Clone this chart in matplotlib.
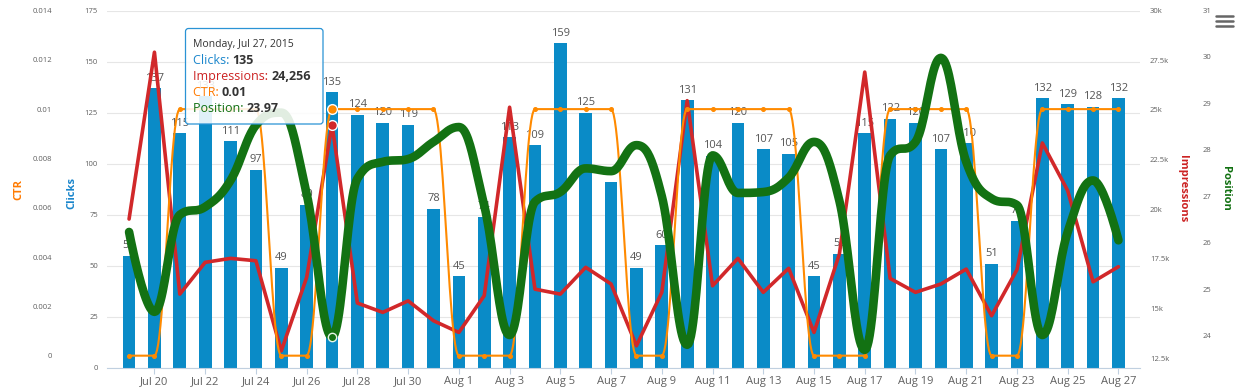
"""
Search console daily metrics, Jul 19 - Aug 27 2015
Clicks (bars), Impressions (line), CTR (spline), Position (spline)
Output: out.png
"""
import numpy as np
import pandas as pd
import matplotlib
matplotlib.use("Agg")
import matplotlib.pyplot as plt
from matplotlib.patches import FancyBboxPatch
from matplotlib.lines import Line2D

plt.rcParams["font.family"] = ["Open Sans", "DejaVu Sans"]

# Data
dates = pd.date_range("2015-07-19", "2015-08-27", freq="D")
clicks = [55, 137, 115, 133, 111, 97, 49, 80, 135, 124, 120, 119, 78,
          45, 74, 113, 109, 159, 125, 91, 49, 60, 131, 104, 120, 107, 105,
          45, 56, 115, 122, 120, 107, 110, 51, 72, 132, 129, 128, 132]
impressions = [19500, 27900, 15720, 17320, 17520, 17400, 12860, 16560, 24256,
               15270, 14800, 15380, 14380, 13790, 15640, 25130, 15970, 15720,
               17070, 16230, 13120, 15810, 25460, 16140, 17520, 15810, 17020,
               13790, 17740, 26900, 16510, 15810, 16230, 16980, 14630, 16950,
               23330, 20930, 16340, 17100]
ctr = [0, 0, 0.01, 0.01, 0.01, 0.01, 0, 0, 0.01, 0.01, 0.01, 0.01, 0.01,
       0, 0, 0, 0.01, 0.01, 0.01, 0.01, 0, 0, 0.01, 0.01, 0.01, 0.01, 0.01,
       0, 0, 0, 0.01, 0.01, 0.01, 0.01, 0, 0, 0.01, 0.01, 0.01, 0.01]
position = [26.23, 24.51, 26.6, 26.77, 27.34, 28.53, 28.8, 27.05, 23.97,
            27.38, 27.74, 27.8, 28.17, 28.49, 26.8, 24.01, 26.88, 27.09,
            27.6, 27.54, 28.1, 27.0, 23.8, 27.88, 27.07, 27.09, 27.4,
            28.17, 26.9, 23.69, 27.88, 28.17, 29.98, 27.74, 26.95, 26.81,
            24.01, 26.23, 27.34, 26.05]
hover = 8  # Jul 27

BLUE = "#0A8BC7"
RED = "#D1282A"
ORANGE = "#FF8A00"
GREEN = "#137213"
GREY = "#606060"


def hc_spline(xs, ys, smoothing=1.5, steps=24):
    # bezier spline the way Highcharts builds it
    n = len(xs)
    left = [(xs[i], ys[i]) for i in range(n)]
    right = [(xs[i], ys[i]) for i in range(n)]
    d = smoothing + 1
    for i in range(1, n - 1):
        x, y = xs[i], ys[i]
        lx, ly = xs[i - 1], ys[i - 1]
        nx, ny = xs[i + 1], ys[i + 1]
        lcx, lcy = (smoothing * x + lx) / d, (smoothing * y + ly) / d
        rcx, rcy = (smoothing * x + nx) / d, (smoothing * y + ny) / d
        if rcx != lcx:
            corr = (rcy - lcy) * (rcx - x) / (rcx - lcx) + y - rcy
            lcy += corr
            rcy += corr
        if lcy > ly and lcy > y:
            lcy = max(ly, y)
            rcy = 2 * y - lcy
        elif lcy < ly and lcy < y:
            lcy = min(ly, y)
            rcy = 2 * y - lcy
        if rcy > ny and rcy > y:
            rcy = max(ny, y)
            lcy = 2 * y - rcy
        elif rcy < ny and rcy < y:
            rcy = min(ny, y)
            lcy = 2 * y - rcy
        left[i] = (lcx, lcy)
        right[i] = (rcx, rcy)
    t = np.linspace(0, 1, steps)[:, None]
    pts = [np.array([[xs[0], ys[0]]])]
    for i in range(1, n):
        p0 = np.array([xs[i - 1], ys[i - 1]])
        p1 = np.array(right[i - 1])
        p2 = np.array(left[i])
        p3 = np.array([xs[i], ys[i]])
        seg = ((1 - t) ** 3) * p0 + 3 * ((1 - t) ** 2) * t * p1 \
            + 3 * (1 - t) * t ** 2 * p2 + t ** 3 * p3
        pts.append(seg[1:])
    pts = np.vstack(pts)
    return pts[:, 0], pts[:, 1]


x = np.arange(len(dates))

fig = plt.figure(figsize=(12.42, 3.89), dpi=100)
W, H = 1242, 389
ax = fig.add_axes([107 / W, 21 / H, (1140 - 107) / W, (368 - 10.5) / H])
ax_imp = ax.twinx()
ax_ctr = ax.twinx()
ax_pos = ax.twinx()
ax.set_zorder(0)
ax_imp.set_zorder(1)
ax_ctr.set_zorder(2)
ax_pos.set_zorder(3)

# Clicks bars + labels
ax.bar(x, clicks, width=0.5, color=BLUE, zorder=2)
for xi, v in zip(x, clicks):
    ax.annotate(str(v), (xi, v), xytext=(0, 3.2), textcoords="offset points",
                ha="center", va="bottom", fontsize=8, color="#555555", zorder=3)

# Impressions line
ax_imp.plot(x, impressions, color=RED, lw=2.6, solid_capstyle="round",
            solid_joinstyle="round")
ax_imp.plot(x[hover], impressions[hover], "o", ms=7, color=RED, mec="white", mew=1)

# CTR spline
sx, sy = hc_spline(x, ctr)
ax_ctr.plot(sx, sy, color=ORANGE, lw=1.5)
ax_ctr.plot(x, ctr, "o", ms=2.6, color=ORANGE)
ax_ctr.plot(x[hover], ctr[hover], "o", ms=7, color=ORANGE, mec="white", mew=1)

# Position spline
px_, py_ = hc_spline(x, position)
ax_pos.plot(px_, py_, color=GREEN, lw=6.2, solid_capstyle="round")
ax_pos.plot(x[hover], position[hover], "o", ms=6, color=GREEN, mec="#E8F5E8", mew=1)

# Axes ranges
ax.set_xlim(-0.87, 39.85)
ax.set_ylim(0, 175)
ax_ctr.set_ylim(-0.0005, 0.014)
ax_imp.set_ylim(12000, 30000)
ax_pos.set_ylim(23.3, 31)

for a in (ax, ax_imp, ax_ctr, ax_pos):
    for s in a.spines.values():
        s.set_visible(False)
ax.spines["bottom"].set_visible(True)
ax.spines["bottom"].set_color("#C0D0E0")
ax.spines["bottom"].set_linewidth(0.8)

# x axis
ax.set_xticks(x[1::2])
ax.set_xticklabels([f"{d:%b} {d.day}" for d in dates[1::2]])
ax.tick_params(axis="x", length=4, width=0.8, color="#C0D0E0", pad=1.5,
               labelsize=8, labelcolor=GREY)

# y axes
ax.set_yticks(np.arange(0, 176, 25))
ax.tick_params(axis="y", length=0, pad=6.5, labelsize=5.5, labelcolor=GREY)
ax.grid(axis="y", color="#E6E6E6", lw=0.8)
ax.set_axisbelow(True)

ax_ctr.yaxis.tick_left()
ax_ctr.set_yticks(np.arange(0, 0.0141, 0.002))
ax_ctr.set_yticklabels(["%g" % round(v, 3) for v in np.arange(0, 0.0141, 0.002)])
ax_ctr.tick_params(axis="y", length=0, pad=39.5, labelsize=5.5, labelcolor=GREY)

ax_imp.set_yticks(np.arange(12500, 30001, 2500))
ax_imp.set_yticklabels(["%gk" % (v / 1000) for v in np.arange(12500, 30001, 2500)])
ax_imp.tick_params(axis="y", length=0, pad=7.2, labelsize=5.5, labelcolor=GREY)

ax_pos.set_yticks(np.arange(24, 32))
ax_pos.tick_params(axis="y", length=0, pad=45, labelsize=5.5, labelcolor=GREY)

for a in (ax_imp, ax_ctr, ax_pos):
    a.set_xlim(ax.get_xlim())

# Axis titles (pixel positions)
def fpos(px, py):
    return px / W, 1 - py / H

fig.text(*fpos(19, 189), "CTR", rotation=90, ha="center", va="center",
         color="#FF7A00", fontsize=8, fontweight="bold")
fig.text(*fpos(72, 193), "Clicks", rotation=90, ha="center", va="center",
         color="#1A86CC", fontsize=8, fontweight="bold")
fig.text(*fpos(1183, 189), "Impressions", rotation=270, ha="center", va="center",
         color="#CC2222", fontsize=8, fontweight="bold")
fig.text(*fpos(1225, 188), "Position", rotation=270, ha="center", va="center",
         color="#117011", fontsize=8, fontweight="bold")

# Menu icon
for yy in (16, 21, 26):
    fig.add_artist(Line2D([1216 / W, 1233 / W], [1 - yy / H] * 2, color="#666666",
                          lw=1.8, solid_capstyle="round", zorder=20))

# Tooltip (drawn inside the top axes so the text sits above the box)
box = FancyBboxPatch((185.5 / 100, (H - 124) / 100), 137.5 / 100, 95.5 / 100,
                     boxstyle="round,pad=0,rounding_size=0.03",
                     transform=fig.dpi_scale_trans, facecolor=(1, 1, 1, 0.88),
                     edgecolor="#2A93D5", lw=0.9, zorder=30, clip_on=False)
ax_pos.add_artist(box)
ax_pos.annotate("Monday, Jul 27, 2015", xy=(193, H - 45), xycoords="figure pixels",
                ha="left", va="center", fontsize=7.5, color="#333333",
                annotation_clip=False, zorder=31)
rows = [("Clicks: ", f"{clicks[hover]}", "#1A86CC", 60.7),
        ("Impressions: ", f"{impressions[hover]:,}", "#CC2222", 76.7),
        ("CTR: ", f"{ctr[hover]:.2f}", "#FF7A00", 92.3),
        ("Position: ", f"{position[hover]:.2f}", "#117011", 108.3)]
for lab, val, col, yy in rows:
    t = ax_pos.annotate(lab, xy=(193, H - yy), xycoords="figure pixels",
                        ha="left", va="center", fontsize=9, color=col,
                        annotation_clip=False, zorder=31)
    ax_pos.annotate(val, xy=(1, 0.5), xycoords=t, ha="left", va="center",
                    fontsize=9, color="#333333", fontweight="bold",
                    annotation_clip=False, zorder=31)

fig.savefig("out.png", dpi=100)
